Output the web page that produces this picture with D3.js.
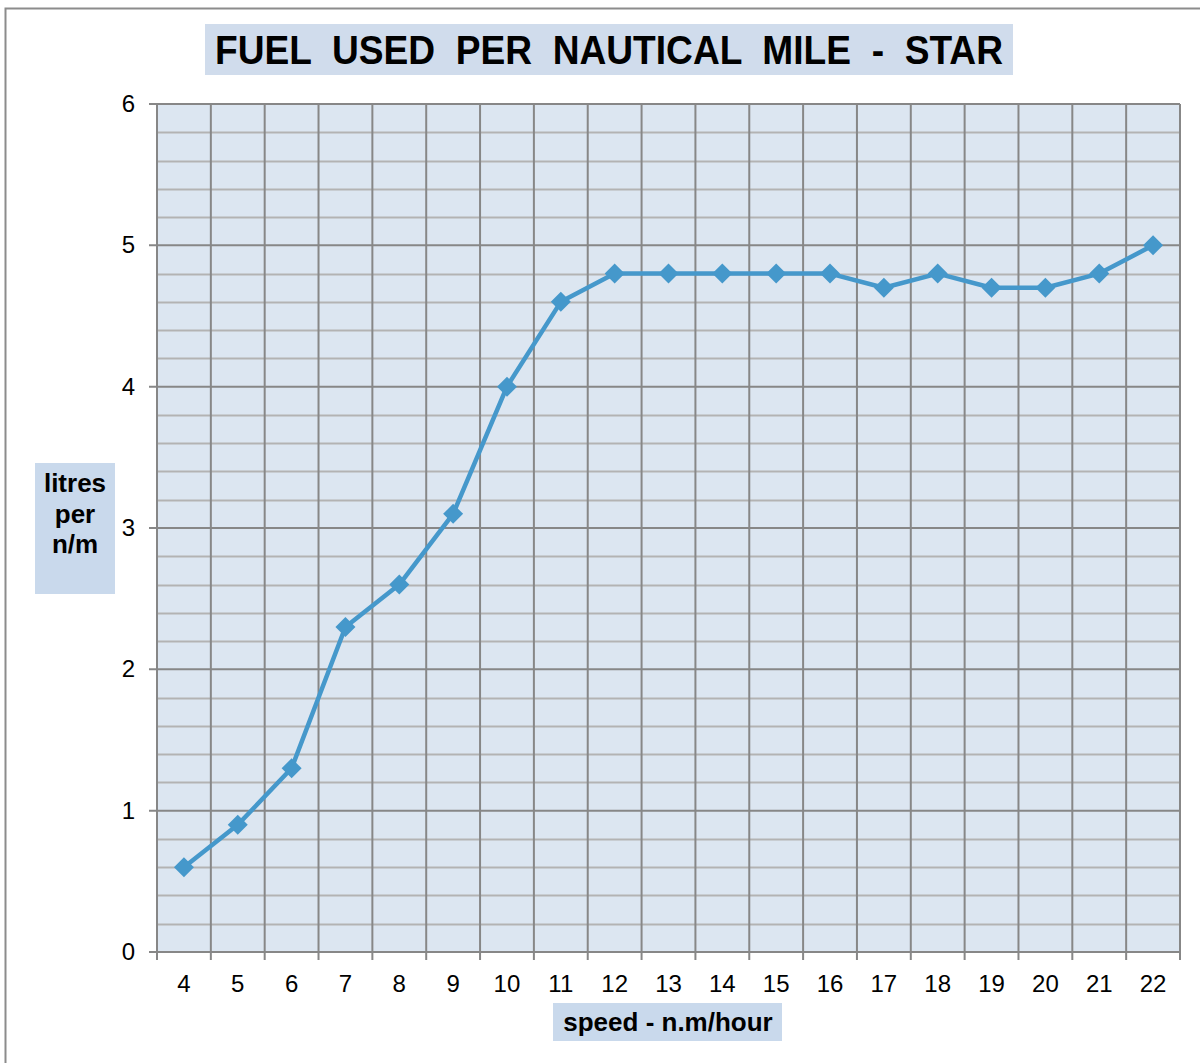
<!DOCTYPE html>
<html><head><meta charset="utf-8">
<script src="https://cdn.jsdelivr.net/npm/d3@7"></script>
<style>body{margin:0;background:#fff}svg{display:block;font-family:"Liberation Sans",Arial,sans-serif}</style>
</head><body>
<svg id="c" width="1200" height="1063"></svg>
<script>
const speeds = [4,5,6,7,8,9,10,11,12,13,14,15,16,17,18,19,20,21,22];
const litres = [0.6,0.9,1.3,2.3,2.6,3.1,4.0,4.6,4.8,4.8,4.8,4.8,4.8,4.7,4.8,4.7,4.7,4.8,5.0];
const yTicks = [0,1,2,3,4,5,6];
const titleText = "FUEL  USED  PER  NAUTICAL  MILE  -  STAR";
const xTitle = "speed - n.m/hour";
const yTitle = ["litres","per","n/m"];

const svg = d3.select("#c");
const L=157, R=1180, T=104, B=952;
svg.append("rect").attr("x",5.5).attr("y",8.5).attr("width",1200).attr("height",1100)
  .attr("fill","#fff").attr("stroke","#8c8c8c").attr("stroke-width",2);

const x = d3.scaleBand().domain(speeds).range([L,R]);
const y = d3.scaleLinear().domain([0,6]).range([B,T]);

svg.append("rect").attr("x",L).attr("y",T).attr("width",R-L).attr("height",B-T).attr("fill","#dce6f1");

const minor = d3.range(0,6.001,0.2).filter(v=>Math.abs(v-Math.round(v))>1e-6);
svg.append("g").selectAll("line").data(minor).join("line")
  .attr("x1",L).attr("x2",R).attr("y1",d=>Math.round(y(d))+0.5).attr("y2",d=>Math.round(y(d))+0.5)
  .attr("stroke","#b3b3b3").attr("stroke-width",2);
svg.append("g").selectAll("line").data(yTicks).join("line")
  .attr("x1",L-8).attr("x2",R).attr("y1",d=>y(d)).attr("y2",d=>y(d))
  .attr("stroke","#878787").attr("stroke-width",2);
const bounds = speeds.map(s=>x(s)).concat([R]);
svg.append("g").selectAll("line").data(bounds).join("line")
  .attr("x1",d=>d).attr("x2",d=>d).attr("y1",T).attr("y2",B+8)
  .attr("stroke","#878787").attr("stroke-width",2);

svg.append("g").selectAll("text").data(yTicks).join("text")
  .attr("x",135).attr("y",d=>y(d)+8).attr("text-anchor","end")
  .attr("font-size",24).attr("fill","#000").text(d=>d);
svg.append("g").selectAll("text").data(speeds).join("text")
  .attr("x",d=>x(d)+x.bandwidth()/2).attr("y",992).attr("text-anchor","middle")
  .attr("font-size",24).attr("fill","#000").text(d=>d);

const line = d3.line().x((d,i)=>x(speeds[i])+x.bandwidth()/2).y(d=>y(d));
svg.append("path").datum(litres).attr("d",line).attr("fill","none")
  .attr("stroke","#4598cb").attr("stroke-width",4.5).attr("stroke-linejoin","round");
svg.append("g").selectAll("path").data(litres).join("path")
  .attr("d",d3.symbol(d3.symbolSquare,200))
  .attr("transform",(d,i)=>`translate(${x(speeds[i])+x.bandwidth()/2},${y(d)}) rotate(45)`)
  .attr("fill","#4598cb");

svg.append("rect").attr("x",205).attr("y",24).attr("width",808).attr("height",51).attr("fill","#d0dcec");
svg.append("text").attr("x",215).attr("y",64)
  .attr("font-size",41).attr("font-weight","bold").attr("xml:space","preserve").style("white-space","pre")
  .attr("textLength",788).attr("lengthAdjust","spacingAndGlyphs")
  .text(titleText);

svg.append("rect").attr("x",35).attr("y",463).attr("width",80).attr("height",131).attr("fill","#c9d9ec");
svg.append("g").selectAll("text").data(yTitle).join("text")
  .attr("x",75).attr("y",(d,i)=>492+i*30.5).attr("text-anchor","middle")
  .attr("font-size",26).attr("font-weight","bold").text(d=>d);

svg.append("rect").attr("x",553).attr("y",1003).attr("width",229).attr("height",38).attr("fill","#c9d9ec");
svg.append("text").attr("x",668).attr("y",1031).attr("text-anchor","middle")
  .attr("font-size",26).attr("font-weight","bold").text(xTitle);
</script>
</body></html>
